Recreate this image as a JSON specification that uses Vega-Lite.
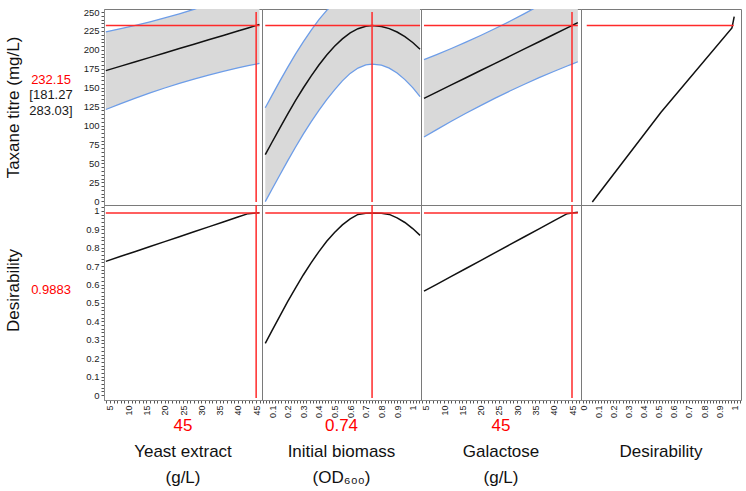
{
  "$schema": "https://vega.github.io/schema/vega-lite/v6.json",
  "padding": {"left": 4, "top": 6, "right": 4, "bottom": 2},
  "columns": 6,
  "spacing": 0,
  "bounds": "flush",
  "resolve": {"scale": {"color": "independent"}},
  "config": {
    "font": "Liberation Sans",
    "view": {"stroke": "#7a7a7a", "strokeWidth": 1},
    "axis": {"labelFont": "Liberation Sans", "labelColor": "#222222", "labelFontSize": 9.5, "domainColor": "#8a8a8a", "tickColor": "#555555", "tickSize": 3, "tickWidth": 1, "labelPadding": 2, "grid": false, "labelOverlap": false, "labelBound": false, "labelFlush": false},
    "text": {"font": "Liberation Sans"}
  },
  "datasets": {
    "c1": [
      {"x": 3.9, "m": 172.55, "lo": 121.2, "hi": 223.9, "d": 0.726},
      {"x": 8, "m": 178.5, "lo": 128.9, "hi": 228.1, "d": 0.7533},
      {"x": 12, "m": 184.3, "lo": 136.2, "hi": 232.4, "d": 0.7799},
      {"x": 16, "m": 190.1, "lo": 143.1, "hi": 237.1, "d": 0.8066},
      {"x": 20, "m": 195.9, "lo": 149.6, "hi": 242.2, "d": 0.8332},
      {"x": 24, "m": 201.7, "lo": 155.7, "hi": 247.7, "d": 0.8598},
      {"x": 28, "m": 207.5, "lo": 161.4, "hi": 253.6, "d": 0.8865},
      {"x": 32, "m": 213.3, "lo": 166.7, "hi": 259.9, "d": 0.9131},
      {"x": 36, "m": 219.1, "lo": 171.6, "hi": 266.6, "d": 0.9397},
      {"x": 40, "m": 224.9, "lo": 176.1, "hi": 273.7, "d": 0.9664},
      {"x": 42.8, "m": 228.96, "lo": 179.1, "hi": 278.9, "d": 0.985},
      {"x": 45, "m": 232.15, "lo": 181.27, "hi": 283.03, "d": 0.9883},
      {"x": 45.9, "m": 233.46, "lo": 182.2, "hi": 284.8, "d": 0.9897}
    ],
    "c2": [
      {"x": 0.057, "m": 61.45, "lo": -0.55, "hi": 123.45, "d": 0.281},
      {"x": 0.1, "m": 77.9, "lo": 15.9, "hi": 139.9, "d": 0.35},
      {"x": 0.15, "m": 96.7, "lo": 34.7, "hi": 158.7, "d": 0.429},
      {"x": 0.2, "m": 115.1, "lo": 53.3, "hi": 176.9, "d": 0.507},
      {"x": 0.25, "m": 132.8, "lo": 71.3, "hi": 194.3, "d": 0.581},
      {"x": 0.3, "m": 149.6, "lo": 88.6, "hi": 210.6, "d": 0.652},
      {"x": 0.35, "m": 165.4, "lo": 104.9, "hi": 225.9, "d": 0.718},
      {"x": 0.4, "m": 180.0, "lo": 120.0, "hi": 240.0, "d": 0.779},
      {"x": 0.45, "m": 193.2, "lo": 134.2, "hi": 252.2, "d": 0.835},
      {"x": 0.5, "m": 204.7, "lo": 147.2, "hi": 262.2, "d": 0.883},
      {"x": 0.55, "m": 214.5, "lo": 159.0, "hi": 270.0, "d": 0.924},
      {"x": 0.6, "m": 222.4, "lo": 168.9, "hi": 275.9, "d": 0.957},
      {"x": 0.65, "m": 228.0, "lo": 176.0, "hi": 280.0, "d": 0.981},
      {"x": 0.7, "m": 231.3, "lo": 180.2, "hi": 282.4, "d": 0.987},
      {"x": 0.74, "m": 232.15, "lo": 181.27, "hi": 283.03, "d": 0.9883},
      {"x": 0.8, "m": 231.0, "lo": 179.8, "hi": 282.2, "d": 0.987},
      {"x": 0.85, "m": 228.1, "lo": 175.8, "hi": 280.4, "d": 0.981},
      {"x": 0.9, "m": 223.6, "lo": 169.4, "hi": 277.8, "d": 0.962},
      {"x": 0.95, "m": 217.5, "lo": 160.7, "hi": 274.3, "d": 0.937},
      {"x": 1.0, "m": 209.7, "lo": 150.1, "hi": 269.3, "d": 0.904},
      {"x": 1.047, "m": 200.9, "lo": 138.2, "hi": 263.6, "d": 0.867}
    ],
    "c3": [
      {"x": 4.53, "m": 135.91, "lo": 84.8, "hi": 187.0, "d": 0.564},
      {"x": 8, "m": 144.16, "lo": 94.6, "hi": 193.7, "d": 0.6013},
      {"x": 12, "m": 153.68, "lo": 105.6, "hi": 201.8, "d": 0.6443},
      {"x": 16, "m": 163.19, "lo": 116.2, "hi": 210.2, "d": 0.6873},
      {"x": 20, "m": 172.7, "lo": 126.4, "hi": 219.0, "d": 0.7304},
      {"x": 24, "m": 182.21, "lo": 136.2, "hi": 228.2, "d": 0.7734},
      {"x": 28, "m": 191.72, "lo": 145.6, "hi": 237.8, "d": 0.8164},
      {"x": 32, "m": 201.24, "lo": 154.6, "hi": 247.9, "d": 0.8594},
      {"x": 36, "m": 210.75, "lo": 163.2, "hi": 258.3, "d": 0.9024},
      {"x": 40, "m": 220.26, "lo": 171.4, "hi": 269.1, "d": 0.9454},
      {"x": 43.68, "m": 229.01, "lo": 178.7, "hi": 279.3, "d": 0.985},
      {"x": 45, "m": 232.15, "lo": 181.27, "hi": 283.03, "d": 0.9883},
      {"x": 46.6, "m": 235.95, "lo": 184.3, "hi": 287.6, "d": 0.9923}
    ],
    "c4": [
      {"d": 0.06, "v": -1},
      {"d": 0.515, "v": 117.5},
      {"d": 0.985, "v": 229},
      {"d": 1.0, "v": 244}
    ],
    "refs": [
      {"col": "c1", "x": 45, "xs": 3.9, "xe": 45.9, "v": 232.15, "dd": 0.9883},
      {"col": "c2", "x": 0.74, "xs": 0.057, "xe": 1.047, "v": 232.15, "dd": 0.9883},
      {"col": "c3", "x": 45, "xs": 4.53, "xe": 46.6, "v": 232.15, "dd": 0.9883},
      {"col": "c4", "xs": 0.023, "xe": 0.997, "v": 232.15}
    ],
    "labels": [
      {"col": "c1", "k": "value", "t": "45"},
      {"col": "c1", "k": "name", "t": "Yeast extract"},
      {"col": "c1", "k": "unit", "t": "(g/L)"},
      {"col": "c2", "k": "value", "t": "0.74"},
      {"col": "c2", "k": "name", "t": "Initial biomass"},
      {"col": "c2", "k": "unit", "t": "(OD₆₀₀)"},
      {"col": "c3", "k": "value", "t": "45"},
      {"col": "c3", "k": "name", "t": "Galactose"},
      {"col": "c3", "k": "unit", "t": "(g/L)"},
      {"col": "c4", "k": "name", "t": "Desirability"}
    ]
  },
  "concat": [
    {
      "width": 54, "height": 196, "view": {"stroke": null},
      "data": {"values": [{"k": "Taxane titre", "c": "prediction", "t": ["232.15", "", ""]}, {"k": "Taxane titre", "c": "interval", "t": ["", "[181.27", "283.03]"]}]},
      "mark": {"type": "text", "fontSize": 13, "lineHeight": 15.5, "baseline": "middle"},
      "encoding": {
        "text": {"field": "t"},
        "y": {"field": "k", "type": "nominal", "scale": {"type": "point", "padding": 0.5, "align": 0.362}, "axis": {"title": "Taxane titre (mg/L)", "labels": false, "ticks": false, "domain": false, "titleFontSize": 17, "titleFontWeight": "normal", "titleColor": "#111111", "titlePadding": 2, "titleFont": "Liberation Sans"}},
        "color": {"field": "c", "type": "nominal", "scale": {"domain": ["prediction", "interval"], "range": ["#ff0000", "#1a1a1a"]}, "legend": null}
      }
    },
    {"width": 26, "height": 196, "view": {"stroke": null}, "data": {"values": []}, "mark": {"type": "text"}, "encoding": {}},
    {
      "width": 158, "height": 196,
      "data": {"name": "c1"},
      "encoding": {"x": {"field": "x", "type": "quantitative", "scale": {"domain": [3.4, 46.6], "nice": false, "zero": false}, "axis": null}},
      "layer": [
        {"mark": {"type": "area", "clip": true, "color": "#d9d9d9"}, "encoding": {"y": {"field": "lo", "type": "quantitative", "scale": {"domain": [-5, 254], "nice": false, "zero": false}, "axis": {"title": null, "values": [0,5,10,15,20,25,30,35,40,45,50,55,60,65,70,75,80,85,90,95,100,105,110,115,120,125,130,135,140,145,150,155,160,165,170,175,180,185,190,195,200,205,210,215,220,225,230,235,240,245,250], "labelExpr": "datum.value % 25 == 0 ? datum.label : ''"}}, "y2": {"field": "hi"}}},
        {"mark": {"type": "line", "clip": true, "color": "#6d9de8", "strokeWidth": 1.3}, "encoding": {"y": {"field": "lo", "type": "quantitative", "scale": {"domain": [-5, 254], "nice": false, "zero": false}, "axis": {"title": null, "values": [0,5,10,15,20,25,30,35,40,45,50,55,60,65,70,75,80,85,90,95,100,105,110,115,120,125,130,135,140,145,150,155,160,165,170,175,180,185,190,195,200,205,210,215,220,225,230,235,240,245,250], "labelExpr": "datum.value % 25 == 0 ? datum.label : ''"}}}},
        {"mark": {"type": "line", "clip": true, "color": "#6d9de8", "strokeWidth": 1.3}, "encoding": {"y": {"field": "hi", "type": "quantitative", "scale": {"domain": [-5, 254], "nice": false, "zero": false}, "axis": {"title": null, "values": [0,5,10,15,20,25,30,35,40,45,50,55,60,65,70,75,80,85,90,95,100,105,110,115,120,125,130,135,140,145,150,155,160,165,170,175,180,185,190,195,200,205,210,215,220,225,230,235,240,245,250], "labelExpr": "datum.value % 25 == 0 ? datum.label : ''"}}}},
        {"mark": {"type": "line", "clip": true, "color": "#111111", "strokeWidth": 1.5}, "encoding": {"y": {"field": "m", "type": "quantitative", "scale": {"domain": [-5, 254], "nice": false, "zero": false}, "axis": {"title": null, "values": [0,5,10,15,20,25,30,35,40,45,50,55,60,65,70,75,80,85,90,95,100,105,110,115,120,125,130,135,140,145,150,155,160,165,170,175,180,185,190,195,200,205,210,215,220,225,230,235,240,245,250], "labelExpr": "datum.value % 25 == 0 ? datum.label : ''"}}}},
        {"data": {"name": "refs"}, "transform": [{"filter": "datum.col == 'c1'"}], "mark": {"type": "rule", "color": "#ff2a2a", "strokeWidth": 1.5}, "encoding": {"x": {"field": "xs", "type": "quantitative", "axis": null}, "x2": {"field": "xe"}, "y": {"field": "v", "type": "quantitative", "scale": {"domain": [-5, 254], "nice": false, "zero": false}, "axis": {"title": null, "values": [0,5,10,15,20,25,30,35,40,45,50,55,60,65,70,75,80,85,90,95,100,105,110,115,120,125,130,135,140,145,150,155,160,165,170,175,180,185,190,195,200,205,210,215,220,225,230,235,240,245,250], "labelExpr": "datum.value % 25 == 0 ? datum.label : ''"}}}},
        {"data": {"name": "refs"}, "transform": [{"filter": "datum.col == 'c1'"}], "mark": {"type": "rule", "color": "#ff2a2a", "strokeWidth": 1.5}, "encoding": {"x": {"field": "x", "type": "quantitative", "axis": null}, "y": {"datum": 250, "type": "quantitative", "scale": {"domain": [-5, 254], "nice": false, "zero": false}, "axis": {"title": null, "values": [0,5,10,15,20,25,30,35,40,45,50,55,60,65,70,75,80,85,90,95,100,105,110,115,120,125,130,135,140,145,150,155,160,165,170,175,180,185,190,195,200,205,210,215,220,225,230,235,240,245,250], "labelExpr": "datum.value % 25 == 0 ? datum.label : ''"}}, "y2": {"datum": -1}}}
      ]
    },
    {
      "width": 159, "height": 196,
      "data": {"name": "c2"},
      "encoding": {"x": {"field": "x", "type": "quantitative", "scale": {"domain": [0.036, 1.053], "nice": false, "zero": false}, "axis": null}},
      "layer": [
        {"mark": {"type": "area", "clip": true, "color": "#d9d9d9"}, "encoding": {"y": {"field": "lo", "type": "quantitative", "scale": {"domain": [-5, 254], "nice": false, "zero": false}, "axis": null}, "y2": {"field": "hi"}}},
        {"mark": {"type": "line", "clip": true, "color": "#6d9de8", "strokeWidth": 1.3}, "encoding": {"y": {"field": "lo", "type": "quantitative", "scale": {"domain": [-5, 254], "nice": false, "zero": false}, "axis": null}}},
        {"mark": {"type": "line", "clip": true, "color": "#6d9de8", "strokeWidth": 1.3}, "encoding": {"y": {"field": "hi", "type": "quantitative", "scale": {"domain": [-5, 254], "nice": false, "zero": false}, "axis": null}}},
        {"mark": {"type": "line", "clip": true, "color": "#111111", "strokeWidth": 1.5}, "encoding": {"y": {"field": "m", "type": "quantitative", "scale": {"domain": [-5, 254], "nice": false, "zero": false}, "axis": null}}},
        {"data": {"name": "refs"}, "transform": [{"filter": "datum.col == 'c2'"}], "mark": {"type": "rule", "color": "#ff2a2a", "strokeWidth": 1.5}, "encoding": {"x": {"field": "xs", "type": "quantitative", "axis": null}, "x2": {"field": "xe"}, "y": {"field": "v", "type": "quantitative", "axis": null}}},
        {"data": {"name": "refs"}, "transform": [{"filter": "datum.col == 'c2'"}], "mark": {"type": "rule", "color": "#ff2a2a", "strokeWidth": 1.5}, "encoding": {"x": {"field": "x", "type": "quantitative", "axis": null}, "y": {"datum": 250, "axis": null}, "y2": {"datum": -1}}}
      ]
    },
    {
      "width": 160, "height": 196,
      "data": {"name": "c3"},
      "encoding": {"x": {"field": "x", "type": "quantitative", "scale": {"domain": [3.71, 47.46], "nice": false, "zero": false}, "axis": null}},
      "layer": [
        {"mark": {"type": "area", "clip": true, "color": "#d9d9d9"}, "encoding": {"y": {"field": "lo", "type": "quantitative", "scale": {"domain": [-5, 254], "nice": false, "zero": false}, "axis": null}, "y2": {"field": "hi"}}},
        {"mark": {"type": "line", "clip": true, "color": "#6d9de8", "strokeWidth": 1.3}, "encoding": {"y": {"field": "lo", "type": "quantitative", "scale": {"domain": [-5, 254], "nice": false, "zero": false}, "axis": null}}},
        {"mark": {"type": "line", "clip": true, "color": "#6d9de8", "strokeWidth": 1.3}, "encoding": {"y": {"field": "hi", "type": "quantitative", "scale": {"domain": [-5, 254], "nice": false, "zero": false}, "axis": null}}},
        {"mark": {"type": "line", "clip": true, "color": "#111111", "strokeWidth": 1.5}, "encoding": {"y": {"field": "m", "type": "quantitative", "scale": {"domain": [-5, 254], "nice": false, "zero": false}, "axis": null}}},
        {"data": {"name": "refs"}, "transform": [{"filter": "datum.col == 'c3'"}], "mark": {"type": "rule", "color": "#ff2a2a", "strokeWidth": 1.5}, "encoding": {"x": {"field": "xs", "type": "quantitative", "axis": null}, "x2": {"field": "xe"}, "y": {"field": "v", "type": "quantitative", "axis": null}}},
        {"data": {"name": "refs"}, "transform": [{"filter": "datum.col == 'c3'"}], "mark": {"type": "rule", "color": "#ff2a2a", "strokeWidth": 1.5}, "encoding": {"x": {"field": "x", "type": "quantitative", "axis": null}, "y": {"datum": 250, "axis": null}, "y2": {"datum": -1}}}
      ]
    },
    {
      "width": 160, "height": 196,
      "layer": [
        {"data": {"name": "c4"}, "mark": {"type": "line", "clip": true, "color": "#111111", "strokeWidth": 1.5}, "encoding": {"x": {"field": "d", "type": "quantitative", "scale": {"domain": [-0.015, 1.045], "nice": false, "zero": false}, "axis": null}, "y": {"field": "v", "type": "quantitative", "scale": {"domain": [-5, 254], "nice": false, "zero": false}, "axis": null}}},
        {"data": {"name": "refs"}, "transform": [{"filter": "datum.col == 'c4'"}], "mark": {"type": "rule", "color": "#ff2a2a", "strokeWidth": 1.5}, "encoding": {"x": {"field": "xs", "type": "quantitative", "axis": null}, "x2": {"field": "xe"}, "y": {"field": "v", "type": "quantitative", "axis": null}}}
      ]
    },
    {
      "width": 54, "height": 195, "view": {"stroke": null},
      "data": {"values": [{"t": "0.9883", "k": "desirability"}]},
      "mark": {"type": "text", "fontSize": 13, "color": "#ff0000"},
      "encoding": {
        "text": {"field": "t"},
        "y": {"field": "k", "type": "nominal", "scale": {"type": "point", "padding": 0.5, "align": 0.436}, "axis": {"title": "Desirability", "labels": false, "ticks": false, "domain": false, "titleFontSize": 17, "titleFontWeight": "normal", "titleColor": "#111111", "titlePadding": 2, "titleFont": "Liberation Sans", "titleY": 85}}
      }
    },
    {"width": 26, "height": 195, "view": {"stroke": null}, "data": {"values": []}, "mark": {"type": "text"}, "encoding": {}},
    {
      "width": 158, "height": 195,
      "layer": [
        {"data": {"name": "c1"}, "mark": {"type": "line", "color": "#111111", "strokeWidth": 1.5}, "encoding": {
          "x": {"field": "x", "type": "quantitative", "scale": {"domain": [3.4, 46.6], "nice": false, "zero": false}, "axis": {"title": null, "values": [4,5,6,7,8,9,10,11,12,13,14,15,16,17,18,19,20,21,22,23,24,25,26,27,28,29,30,31,32,33,34,35,36,37,38,39,40,41,42,43,44,45,46], "labelExpr": "datum.value % 5 == 0 ? datum.label : ''", "labelAngle": 270, "labelFontSize": 9}},
          "y": {"field": "d", "type": "quantitative", "scale": {"domain": [-0.027, 1.032], "nice": false, "zero": false}, "axis": {"title": null, "values": [0,0.02,0.04,0.06,0.08,0.1,0.12,0.14,0.16,0.18,0.2,0.22,0.24,0.26,0.28,0.3,0.32,0.34,0.36,0.38,0.4,0.42,0.44,0.46,0.48,0.5,0.52,0.54,0.56,0.58,0.6,0.62,0.64,0.66,0.68,0.7,0.72,0.74,0.76,0.78,0.8,0.82,0.84,0.86,0.88,0.9,0.92,0.94,0.96,0.98,1,1.02], "labelExpr": "abs(datum.value*10 - round(datum.value*10)) < 0.001 ? format(datum.value, '~g') : ''"}}}},
        {"data": {"name": "refs"}, "transform": [{"filter": "datum.col == 'c1'"}], "mark": {"type": "rule", "color": "#ff2a2a", "strokeWidth": 1.5}, "encoding": {
          "x": {"field": "xs", "type": "quantitative", "scale": {"domain": [3.4, 46.6], "nice": false, "zero": false}, "axis": {"title": null, "values": [4,5,6,7,8,9,10,11,12,13,14,15,16,17,18,19,20,21,22,23,24,25,26,27,28,29,30,31,32,33,34,35,36,37,38,39,40,41,42,43,44,45,46], "labelExpr": "datum.value % 5 == 0 ? datum.label : ''", "labelAngle": 270, "labelFontSize": 9}},
          "x2": {"field": "xe"},
          "y": {"field": "dd", "type": "quantitative", "scale": {"domain": [-0.027, 1.032], "nice": false, "zero": false}, "axis": {"title": null, "values": [0,0.02,0.04,0.06,0.08,0.1,0.12,0.14,0.16,0.18,0.2,0.22,0.24,0.26,0.28,0.3,0.32,0.34,0.36,0.38,0.4,0.42,0.44,0.46,0.48,0.5,0.52,0.54,0.56,0.58,0.6,0.62,0.64,0.66,0.68,0.7,0.72,0.74,0.76,0.78,0.8,0.82,0.84,0.86,0.88,0.9,0.92,0.94,0.96,0.98,1,1.02], "labelExpr": "abs(datum.value*10 - round(datum.value*10)) < 0.001 ? format(datum.value, '~g') : ''"}}}},
        {"data": {"name": "refs"}, "transform": [{"filter": "datum.col == 'c1'"}], "mark": {"type": "rule", "color": "#ff2a2a", "strokeWidth": 1.5}, "encoding": {
          "x": {"field": "x", "type": "quantitative", "scale": {"domain": [3.4, 46.6], "nice": false, "zero": false}, "axis": {"title": null, "values": [4,5,6,7,8,9,10,11,12,13,14,15,16,17,18,19,20,21,22,23,24,25,26,27,28,29,30,31,32,33,34,35,36,37,38,39,40,41,42,43,44,45,46], "labelExpr": "datum.value % 5 == 0 ? datum.label : ''", "labelAngle": 270, "labelFontSize": 9}},
          "y": {"datum": 1.032, "type": "quantitative", "scale": {"domain": [-0.027, 1.032], "nice": false, "zero": false}, "axis": {"title": null, "values": [0,0.02,0.04,0.06,0.08,0.1,0.12,0.14,0.16,0.18,0.2,0.22,0.24,0.26,0.28,0.3,0.32,0.34,0.36,0.38,0.4,0.42,0.44,0.46,0.48,0.5,0.52,0.54,0.56,0.58,0.6,0.62,0.64,0.66,0.68,0.7,0.72,0.74,0.76,0.78,0.8,0.82,0.84,0.86,0.88,0.9,0.92,0.94,0.96,0.98,1,1.02], "labelExpr": "abs(datum.value*10 - round(datum.value*10)) < 0.001 ? format(datum.value, '~g') : ''"}},
          "y2": {"datum": -0.016}}}
      ]
    },
    {
      "width": 159, "height": 195,
      "layer": [
        {"data": {"name": "c2"}, "mark": {"type": "line", "color": "#111111", "strokeWidth": 1.5}, "encoding": {
          "x": {"field": "x", "type": "quantitative", "scale": {"domain": [0.036, 1.053], "nice": false, "zero": false}, "axis": {"title": null, "values": [0.04,0.06,0.08,0.1,0.12,0.14,0.16,0.18,0.2,0.22,0.24,0.26,0.28,0.3,0.32,0.34,0.36,0.38,0.4,0.42,0.44,0.46,0.48,0.5,0.52,0.54,0.56,0.58,0.6,0.62,0.64,0.66,0.68,0.7,0.72,0.74,0.76,0.78,0.8,0.82,0.84,0.86,0.88,0.9,0.92,0.94,0.96,0.98,1,1.02,1.04], "labelExpr": "abs(datum.value*10 - round(datum.value*10)) < 0.001 ? format(datum.value, '~g') : ''", "labelAngle": 270, "labelFontSize": 9}},
          "y": {"field": "d", "type": "quantitative", "scale": {"domain": [-0.027, 1.032], "nice": false, "zero": false}, "axis": null}}},
        {"data": {"name": "refs"}, "transform": [{"filter": "datum.col == 'c2'"}], "mark": {"type": "rule", "color": "#ff2a2a", "strokeWidth": 1.5}, "encoding": {
          "x": {"field": "xs", "type": "quantitative", "scale": {"domain": [0.036, 1.053], "nice": false, "zero": false}, "axis": {"title": null, "values": [0.04,0.06,0.08,0.1,0.12,0.14,0.16,0.18,0.2,0.22,0.24,0.26,0.28,0.3,0.32,0.34,0.36,0.38,0.4,0.42,0.44,0.46,0.48,0.5,0.52,0.54,0.56,0.58,0.6,0.62,0.64,0.66,0.68,0.7,0.72,0.74,0.76,0.78,0.8,0.82,0.84,0.86,0.88,0.9,0.92,0.94,0.96,0.98,1,1.02,1.04], "labelExpr": "abs(datum.value*10 - round(datum.value*10)) < 0.001 ? format(datum.value, '~g') : ''", "labelAngle": 270, "labelFontSize": 9}},
          "x2": {"field": "xe"},
          "y": {"field": "dd", "type": "quantitative", "axis": null}}},
        {"data": {"name": "refs"}, "transform": [{"filter": "datum.col == 'c2'"}], "mark": {"type": "rule", "color": "#ff2a2a", "strokeWidth": 1.5}, "encoding": {
          "x": {"field": "x", "type": "quantitative", "scale": {"domain": [0.036, 1.053], "nice": false, "zero": false}, "axis": {"title": null, "values": [0.04,0.06,0.08,0.1,0.12,0.14,0.16,0.18,0.2,0.22,0.24,0.26,0.28,0.3,0.32,0.34,0.36,0.38,0.4,0.42,0.44,0.46,0.48,0.5,0.52,0.54,0.56,0.58,0.6,0.62,0.64,0.66,0.68,0.7,0.72,0.74,0.76,0.78,0.8,0.82,0.84,0.86,0.88,0.9,0.92,0.94,0.96,0.98,1,1.02,1.04], "labelExpr": "abs(datum.value*10 - round(datum.value*10)) < 0.001 ? format(datum.value, '~g') : ''", "labelAngle": 270, "labelFontSize": 9}},
          "y": {"datum": 1.032, "axis": null}, "y2": {"datum": -0.016}}}
      ]
    },
    {
      "width": 160, "height": 195,
      "layer": [
        {"data": {"name": "c3"}, "mark": {"type": "line", "color": "#111111", "strokeWidth": 1.5}, "encoding": {
          "x": {"field": "x", "type": "quantitative", "scale": {"domain": [3.71, 47.46], "nice": false, "zero": false}, "axis": {"title": null, "values": [4,5,6,7,8,9,10,11,12,13,14,15,16,17,18,19,20,21,22,23,24,25,26,27,28,29,30,31,32,33,34,35,36,37,38,39,40,41,42,43,44,45,46,47], "labelExpr": "datum.value % 5 == 0 ? datum.label : ''", "labelAngle": 270, "labelFontSize": 9}},
          "y": {"field": "d", "type": "quantitative", "scale": {"domain": [-0.027, 1.032], "nice": false, "zero": false}, "axis": null}}},
        {"data": {"name": "refs"}, "transform": [{"filter": "datum.col == 'c3'"}], "mark": {"type": "rule", "color": "#ff2a2a", "strokeWidth": 1.5}, "encoding": {
          "x": {"field": "xs", "type": "quantitative", "scale": {"domain": [3.71, 47.46], "nice": false, "zero": false}, "axis": {"title": null, "values": [4,5,6,7,8,9,10,11,12,13,14,15,16,17,18,19,20,21,22,23,24,25,26,27,28,29,30,31,32,33,34,35,36,37,38,39,40,41,42,43,44,45,46,47], "labelExpr": "datum.value % 5 == 0 ? datum.label : ''", "labelAngle": 270, "labelFontSize": 9}},
          "x2": {"field": "xe"},
          "y": {"field": "dd", "type": "quantitative", "axis": null}}},
        {"data": {"name": "refs"}, "transform": [{"filter": "datum.col == 'c3'"}], "mark": {"type": "rule", "color": "#ff2a2a", "strokeWidth": 1.5}, "encoding": {
          "x": {"field": "x", "type": "quantitative", "scale": {"domain": [3.71, 47.46], "nice": false, "zero": false}, "axis": {"title": null, "values": [4,5,6,7,8,9,10,11,12,13,14,15,16,17,18,19,20,21,22,23,24,25,26,27,28,29,30,31,32,33,34,35,36,37,38,39,40,41,42,43,44,45,46,47], "labelExpr": "datum.value % 5 == 0 ? datum.label : ''", "labelAngle": 270, "labelFontSize": 9}},
          "y": {"datum": 1.032, "axis": null}, "y2": {"datum": -0.016}}}
      ]
    },
    {
      "width": 160, "height": 195,
      "data": {"values": []},
      "mark": {"type": "point"},
      "encoding": {
        "x": {"field": "d", "type": "quantitative", "scale": {"domain": [-0.015, 1.045], "nice": false, "zero": false}, "axis": {"title": null, "values": [0,0.02,0.04,0.06,0.08,0.1,0.12,0.14,0.16,0.18,0.2,0.22,0.24,0.26,0.28,0.3,0.32,0.34,0.36,0.38,0.4,0.42,0.44,0.46,0.48,0.5,0.52,0.54,0.56,0.58,0.6,0.62,0.64,0.66,0.68,0.7,0.72,0.74,0.76,0.78,0.8,0.82,0.84,0.86,0.88,0.9,0.92,0.94,0.96,0.98,1,1.02,1.04], "labelExpr": "abs(datum.value*10 - round(datum.value*10)) < 0.001 ? format(datum.value, '~g') : ''", "labelAngle": 270, "labelFontSize": 9}},
        "y": {"field": "v", "type": "quantitative", "scale": {"domain": [-0.027, 1.032], "nice": false, "zero": false}, "axis": null}
      }
    },
    {"width": 54, "height": 104, "view": {"stroke": null}, "data": {"values": []}, "mark": {"type": "text"}, "encoding": {}},
    {"width": 26, "height": 104, "view": {"stroke": null}, "data": {"values": []}, "mark": {"type": "text"}, "encoding": {}},
    {
      "width": 158, "height": 104, "view": {"stroke": null},
      "data": {"name": "labels"}, "transform": [{"filter": "datum.col == 'c1'"}],
      "mark": {"type": "text", "fontSize": 17},
      "encoding": {"text": {"field": "t"}, "y": {"field": "k", "type": "nominal", "scale": {"type": "point", "domain": ["value", "name", "unit"], "padding": 1}, "axis": null}, "color": {"field": "k", "type": "nominal", "scale": {"domain": ["value", "name", "unit"], "range": ["#ff0000", "#111111", "#111111"]}, "legend": null}}
    },
    {
      "width": 159, "height": 104, "view": {"stroke": null},
      "data": {"name": "labels"}, "transform": [{"filter": "datum.col == 'c2'"}],
      "mark": {"type": "text", "fontSize": 17},
      "encoding": {"text": {"field": "t"}, "y": {"field": "k", "type": "nominal", "scale": {"type": "point", "domain": ["value", "name", "unit"], "padding": 1}, "axis": null}, "color": {"field": "k", "type": "nominal", "scale": {"domain": ["value", "name", "unit"], "range": ["#ff0000", "#111111", "#111111"]}, "legend": null}}
    },
    {
      "width": 160, "height": 104, "view": {"stroke": null},
      "data": {"name": "labels"}, "transform": [{"filter": "datum.col == 'c3'"}],
      "mark": {"type": "text", "fontSize": 17},
      "encoding": {"text": {"field": "t"}, "y": {"field": "k", "type": "nominal", "scale": {"type": "point", "domain": ["value", "name", "unit"], "padding": 1}, "axis": null}, "color": {"field": "k", "type": "nominal", "scale": {"domain": ["value", "name", "unit"], "range": ["#ff0000", "#111111", "#111111"]}, "legend": null}}
    },
    {
      "width": 160, "height": 104, "view": {"stroke": null},
      "data": {"name": "labels"}, "transform": [{"filter": "datum.col == 'c4'"}],
      "mark": {"type": "text", "fontSize": 17},
      "encoding": {"text": {"field": "t"}, "y": {"field": "k", "type": "nominal", "scale": {"type": "point", "domain": ["value", "name", "unit"], "padding": 1}, "axis": null}, "color": {"field": "k", "type": "nominal", "scale": {"domain": ["value", "name", "unit"], "range": ["#ff0000", "#111111", "#111111"]}, "legend": null}}
    }
  ]
}
